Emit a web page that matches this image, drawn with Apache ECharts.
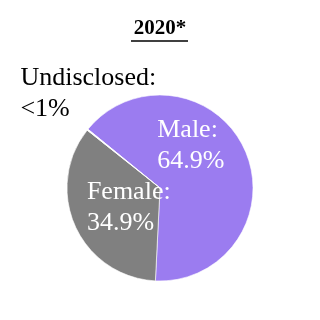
<!DOCTYPE html>
<html>
<head>
<meta charset="utf-8">
<script src="https://cdn.jsdelivr.net/npm/echarts@6/dist/echarts.min.js"></script>
<style>html,body{margin:0;padding:0;background:#fff;}#c{width:320px;height:320px;}</style>
</head>
<body>
<div id="c"></div>
<script>
const titleText = '2020*';
const categories = ['Male', 'Female', 'Undisclosed'];
const values = [64.9, 34.9, 0.2];
const labelTexts = ['Male:\n64.9%', 'Female:\n34.9%', 'Undisclosed:\n<1%'];
const colors = ['#9b7cf0', '#808080', '#ffffff'];
const labelColors = ['#ffffff', '#ffffff', '#000000'];
const labelShift = [[-48, -22], [-28, -1], [-101, -63]];

const FONT = 'Liberation Serif';
const chart = echarts.init(document.getElementById('c'));
chart.setOption({
  animation: false,
  title: {
    text: titleText,
    left: 'center',
    top: 18,
    padding: 0,
    textStyle: { fontFamily: FONT, fontSize: 21, fontWeight: 'bold', color: '#000' }
  },
  graphic: [{
    type: 'line',
    shape: { x1: 131, y1: 41, x2: 188, y2: 41 },
    style: { stroke: '#000', lineWidth: 1.5 }
  }],
  series: [{
    type: 'pie',
    center: ['50%', 188],
    radius: 93,
    startAngle: 140.8,
    clockwise: true,
    avoidLabelOverlap: false,
    itemStyle: { borderColor: '#ffffff', borderWidth: 0.6 },
    label: {
      show: true,
      position: 'inside',
      fontFamily: FONT,
      fontSize: 26,
      lineHeight: 31,
      align: 'left'
    },
    labelLine: { show: false },
    labelLayout: function (p) {
      const s = labelShift[p.dataIndex];
      return { dx: s[0], dy: s[1], align: 'left', verticalAlign: 'middle' };
    },
    emphasis: { disabled: true },
    data: categories.map((c, i) => ({
      name: c,
      value: values[i],
      itemStyle: { color: colors[i] },
      label: { formatter: labelTexts[i], color: labelColors[i] }
    }))
  }]
});
</script>
</body>
</html>
